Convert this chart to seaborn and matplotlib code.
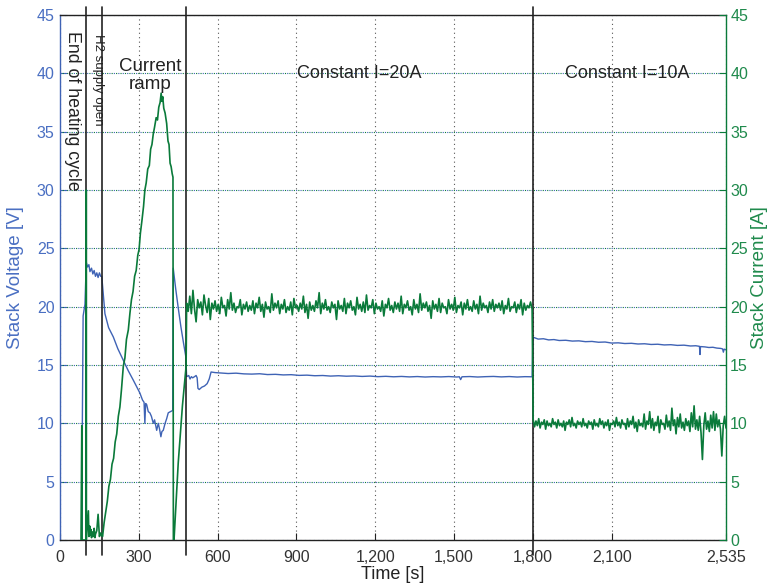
import numpy as np
import pandas as pd
import matplotlib
matplotlib.use("Agg")
import matplotlib.pyplot as plt
import seaborn as sns
from matplotlib.ticker import FuncFormatter

sns.set_theme(style="white")
plt.rcParams["font.family"] = ["Liberation Sans", "DejaVu Sans"]

BLUE = "#3f63b5"
BLUE_TXT = "#4a6fc2"
GREEN = "#0a7a3a"
GREEN_TXT = "#1f8a4c"

# ---------------- data ----------------
# Stack voltage, start-up / ramp phase (time [s], voltage [V])
V_T_START = [84, 85, 88, 95, 100, 105, 110, 114, 120, 125, 130, 135, 140, 145, 150, 155, 159,
             165, 171, 185, 203, 220, 241, 260, 279, 295, 304, 314, 320, 323, 326, 330,
             336, 342, 348, 355, 360, 368, 374, 379, 384, 388, 393, 400, 406, 412, 420, 429,
             431, 440, 450, 460, 470, 479, 482, 490, 495, 500, 505, 512, 518, 522, 525,
             530, 540, 550, 560, 568, 575, 590]
V_START = [0.0, 10.0, 19.2, 20.2, 23.8, 23.4, 23.6, 23.0, 23.3, 22.8, 23.1, 22.6, 22.9, 22.5, 22.9, 22.6, 22.6,
           21.0, 19.4, 18.2, 17.4, 16.4, 15.4, 14.5, 13.7, 13.0, 12.6, 12.0, 11.8, 10.0, 11.7, 11.6,
           11.0, 10.9, 10.6, 10.0, 10.3, 9.4, 10.0, 9.5, 8.85, 9.3, 9.4, 10.0, 10.4, 10.9, 11.0, 11.1,
           23.3, 21.6, 19.9, 18.3, 16.9, 15.7, 14.0, 14.1, 13.8, 14.0, 13.9, 14.0, 14.1, 13.9, 13.0,
           12.9, 13.1, 13.2, 13.4, 13.8, 14.4, 14.35]
# Stack voltage, constant 20 A phase
V_T_20 = [610, 640, 670, 700, 730, 760, 790, 820, 850, 880, 910, 940, 970, 1000, 1030, 1060,
          1090, 1120, 1150, 1180, 1210, 1240, 1270, 1300, 1330, 1360, 1390, 1420, 1450, 1480,
          1510, 1520, 1525, 1530, 1560, 1590, 1620, 1650, 1680, 1710, 1740, 1770, 1797]
V_20 = [14.32, 14.27, 14.3, 14.24, 14.22, 14.25, 14.18, 14.2, 14.15, 14.17, 14.11, 14.13, 14.08, 14.1,
        14.05, 14.08, 14.04, 14.06, 14.02, 14.05, 14.0, 14.03, 13.99, 14.02, 13.98, 14.01, 13.97, 14.0,
        13.98, 14.01, 13.97, 13.99, 13.75, 13.99, 14.01, 13.97, 14.0, 14.02, 13.98, 14.01, 13.97, 14.0, 13.99]
# Stack voltage, constant 10 A phase
V_T_10 = [1800, 1805, 1820, 1840, 1860, 1880, 1900, 1925, 1950, 1975, 2000, 2025, 2050, 2075,
          2100, 2125, 2150, 2175, 2200, 2225, 2250, 2275, 2300, 2325, 2350, 2375, 2400, 2420,
          2434, 2436, 2438, 2455, 2470, 2485, 2500, 2515, 2522, 2525, 2528, 2535]
V_10 = [17.3, 17.35, 17.22, 17.25, 17.15, 17.18, 17.1, 17.12, 17.05, 17.07, 17.0, 17.02, 16.95, 16.97,
        16.88, 16.9, 16.84, 16.86, 16.8, 16.82, 16.76, 16.78, 16.72, 16.74, 16.68, 16.7, 16.63, 16.65,
        16.6, 15.9, 16.58, 16.55, 16.5, 16.52, 16.45, 16.42, 16.38, 16.1, 16.36, 16.3]

# Stack current, start-up / ramp phase (time [s], current [A])
I_T_START = [80, 83, 84, 99.5, 100, 100.5, 108, 110, 113, 115, 118, 120, 123, 127, 130, 133, 135,
             140, 145, 150, 155, 159, 162, 168, 174, 180, 186, 192, 198, 204, 210, 216, 222, 228,
             234, 241, 247, 253, 260, 266, 272, 278, 284, 290, 296, 301, 306, 312, 318, 323, 328,
             334, 340, 345, 350, 355, 360, 366, 371, 376, 381, 385, 388, 391, 395, 400, 406, 411,
             415, 419, 423, 427, 430, 431.5, 434, 450, 466, 480]
I_START = [0.0, 9.8, 0.0, 0.0, 30.0, 0.0, 2.5, 0.3, 1.2, 0.4, 0.9, 0.2, 0.7, 0.3, 1.0, 0.2, 0.5,
           0.8, 2.2, 0.3, 0.6, 0.4, 0.3, 1.5, 2.4, 3.3, 4.6, 5.2, 6.5, 7.0, 8.4, 9.1, 10.6, 11.4,
           12.9, 14.9, 15.6, 17.2, 18.0, 19.4, 20.6, 21.3, 22.6, 23.1, 24.4, 24.9, 26.3, 27.4, 28.6, 30.0, 30.6,
           31.8, 32.1, 33.5, 33.9, 34.8, 35.4, 36.2, 36.0, 37.1, 37.5, 38.3, 37.6, 38.0, 37.0, 36.6, 35.7, 34.2,
           33.9, 32.3, 32.0, 31.4, 31.1, 0.0, 0.0, 6.6, 11.5, 14.9]
# Stack current, constant 20 A phase (482 s .. 1797 s)
I_20 = [20.3, 19.6, 20.9, 19.4, 21.4, 19.8, 18.7, 20.6, 19.9, 20.4, 19.3, 21.0, 20.1, 19.5, 20.7, 18.9, 20.3, 19.8, 20.5, 19.6,
        20.2, 19.4, 20.8, 19.9, 20.1, 19.2, 20.6, 19.8, 21.2, 19.7, 20.3, 19.5, 20.0, 19.9, 20.6, 19.3, 20.2, 19.8, 20.4, 19.6,
        20.1, 19.7, 20.5, 19.4, 20.3, 19.9, 20.8, 19.6, 20.2, 19.1, 20.4, 19.8, 20.0, 19.5, 21.1, 19.7, 20.3, 19.9, 20.5, 19.4,
        20.2, 19.8, 20.6, 19.5, 20.0, 19.7, 20.4, 19.3, 20.7, 19.9, 20.1, 19.6, 20.3, 19.8, 20.9, 19.5, 20.2, 19.0, 20.4, 19.7,
        20.1, 19.6, 20.5, 19.9, 21.2, 19.4, 20.3, 19.8, 20.6, 19.7, 20.0, 19.5, 20.4, 19.9, 20.2, 18.9, 20.5, 19.8, 20.1, 19.6,
        20.7, 19.4, 20.3, 19.9, 20.5, 19.7, 20.0, 19.3, 20.8, 19.8, 20.2, 19.6, 20.4, 19.5, 21.0, 19.7, 20.1, 19.9, 20.6, 19.4,
        20.3, 19.8, 20.0, 19.6, 20.5, 19.2, 20.2, 19.9, 20.7, 19.7, 20.1, 19.5, 20.4, 19.8, 20.3, 19.6, 20.9, 19.4, 20.2, 19.9,
        20.5, 19.7, 20.0, 19.3, 20.6, 19.8, 20.2, 19.5, 21.1, 19.7, 20.3, 19.9, 20.4, 19.6, 20.1, 19.0, 20.5, 19.8, 20.2, 19.6,
        20.7, 19.5, 20.3, 19.9, 20.0, 19.4, 20.6, 19.8, 20.2, 19.7, 20.8, 19.5, 20.1, 19.9, 20.4, 19.3, 20.3, 19.8, 20.6, 19.7,
        20.0, 19.6, 20.5, 19.8, 20.2, 19.4, 20.9, 19.7, 20.3, 19.9, 20.1, 19.5, 20.4, 19.8, 20.6, 19.6, 20.2, 19.9, 20.3, 19.7,
        20.5, 19.4, 20.1, 19.8, 20.7, 19.6, 20.0, 19.9, 20.4, 19.5, 20.2, 19.8, 20.6, 19.3, 20.3, 19.7, 20.1, 19.9, 20.4, 19.8]
I_20_SPAN = (482, 1797)
# Stack current, constant 10 A phase (1801 s .. 2535 s)
I_10 = [10.3, 9.7, 10.2, 9.8, 10.4, 9.6, 10.1, 9.9, 10.3, 9.5, 10.2, 9.8, 10.0, 9.7, 10.4, 9.9, 10.1, 9.6, 10.3, 9.8,
        10.0, 9.7, 10.2, 9.4, 10.1, 9.9, 10.3, 9.7, 10.5, 9.8, 10.0, 9.6, 10.2, 9.9, 10.1, 9.7, 10.4, 9.8, 10.0, 9.6,
        10.2, 9.9, 10.1, 9.5, 10.3, 9.8, 10.0, 9.7, 10.4, 9.9, 10.2, 9.6, 10.1, 9.8, 10.3, 9.4, 10.0, 9.9, 10.2, 9.7,
        10.5, 9.8, 10.1, 9.6, 10.3, 9.9, 10.0, 9.5, 10.4, 9.7, 10.2, 9.9, 10.6, 9.6, 10.1, 9.3, 10.3, 9.8, 10.0, 9.7,
        10.8, 9.5, 10.2, 9.9, 11.0, 9.6, 10.4, 9.4, 10.1, 9.8, 10.6, 9.2, 10.3, 9.9, 10.0, 9.5, 10.7, 9.7, 10.2, 9.4,
        11.3, 9.8, 10.3, 9.1, 10.5, 9.7, 10.8, 9.6, 10.1, 9.4, 10.4, 9.8, 10.2, 9.3, 10.9, 9.7, 11.5, 9.5, 10.3, 9.4,
        10.6, 9.2, 6.9, 9.8, 10.9, 9.5, 10.2, 9.3, 10.7, 9.6, 11.0, 9.4, 10.8, 9.7, 10.3, 9.5, 7.2, 9.8, 10.6, 9.6]
I_10_SPAN = (1801, 2535)

EVENT_TIMES = [100, 159, 480, 1800]
X_TICKS = [0, 300, 600, 900, 1200, 1500, 1800, 2100, 2535]
Y_TICKS = [0, 5, 10, 15, 20, 25, 30, 35, 40, 45]

# ---------------- build tables ----------------
volt = pd.DataFrame({
    "t": V_T_START + V_T_20 + V_T_10,
    "V": V_START + V_20 + V_10,
})
t20 = np.linspace(I_20_SPAN[0], I_20_SPAN[1], len(I_20))
t10 = np.linspace(I_10_SPAN[0], I_10_SPAN[1], len(I_10))
curr = pd.DataFrame({
    "t": np.concatenate([I_T_START, t20, t10]),
    "I": np.concatenate([I_START, I_20, I_10]),
})

# ---------------- figure ----------------
fig = plt.figure(figsize=(7.69, 5.84), dpi=100)
ax = fig.add_axes([60 / 769, 44 / 584, 666 / 769, 525 / 584])
ax2 = ax.twinx()

# grids
ax.set_axisbelow(True)
ax.grid(True, axis="x", color="#555555", linestyle=(0, (1, 3)), linewidth=0.8)
ax.grid(True, axis="y", color=BLUE, linestyle=(0, (1, 3)), linewidth=0.8)
for y in Y_TICKS[1:-1]:
    ax.axhline(y, color=GREEN, linestyle=(2, (1, 3)), linewidth=0.8, zorder=0.6)

sns.lineplot(data=volt, x="t", y="V", ax=ax, color=BLUE, linewidth=1.0,
             estimator=None, sort=False, legend=False)

sns.lineplot(data=curr, x="t", y="I", ax=ax2, color=GREEN, linewidth=1.2,
             estimator=None, sort=False, legend=False, zorder=2)

for t in EVENT_TIMES:
    ax2.axvline(t, ymin=-0.028, ymax=1.015, color="#222222", linewidth=1.2,
                clip_on=False, zorder=1.5)

ax.set_xlim(0, 2535)
ax.set_ylim(0, 45)
ax2.set_ylim(0, 45)
ax.set_xticks(X_TICKS)
ax.xaxis.set_major_formatter(FuncFormatter(lambda v, p: f"{int(round(v)):,}"))
ax.set_yticks(Y_TICKS)
ax2.set_yticks(Y_TICKS)

ax.tick_params(axis="x", direction="in", length=5, width=0.8, colors="#222222",
               labelsize=11.5, labelcolor="#333333", pad=7, bottom=True)
ax.tick_params(axis="y", direction="in", length=5, width=0.8, colors=BLUE,
               labelsize=11.5, labelcolor=BLUE_TXT, pad=4, left=True)
ax2.tick_params(axis="y", direction="in", length=5, width=0.8, colors=GREEN,
                labelsize=11.5, labelcolor=GREEN_TXT, pad=3, right=True)

for s in ["top", "bottom"]:
    ax.spines[s].set_color("#222222")
    ax.spines[s].set_linewidth(1.0)
ax.spines["left"].set_color(BLUE)
ax.spines["left"].set_linewidth(1.0)
ax.spines["right"].set_visible(False)
for s in ["top", "bottom", "left"]:
    ax2.spines[s].set_visible(False)
ax2.spines["right"].set_color(GREEN)
ax2.spines["right"].set_linewidth(1.0)

ax.set_xlabel("Time [s]", fontsize=13, color="#222222", labelpad=1)
ax.set_ylabel("Stack Voltage [V]", fontsize=13.5, color=BLUE_TXT, labelpad=9)
ax2.set_ylabel("Stack Current [A]", fontsize=13.5, color=GREEN_TXT, rotation=90, labelpad=2)

txt = dict(color="#222222")
ax2.text(47, 43.6, "End of heating cycle", rotation=270, ha="center", va="top",
         fontsize=12.8, **txt)
ax2.text(146, 43.4, "H2 supply open", rotation=270, ha="center", va="top",
         fontsize=9.5, **txt)
ax2.text(343, 39.8, "Current\nramp", ha="center", va="center", fontsize=13.5,
         linespacing=1.05, **txt)
ax2.text(1138, 40.0, "Constant I=20A", ha="center", va="center", fontsize=13, **txt)
ax2.text(2158, 40.0, "Constant I=10A", ha="center", va="center", fontsize=13, **txt)

fig.savefig("out.png", dpi=100)
